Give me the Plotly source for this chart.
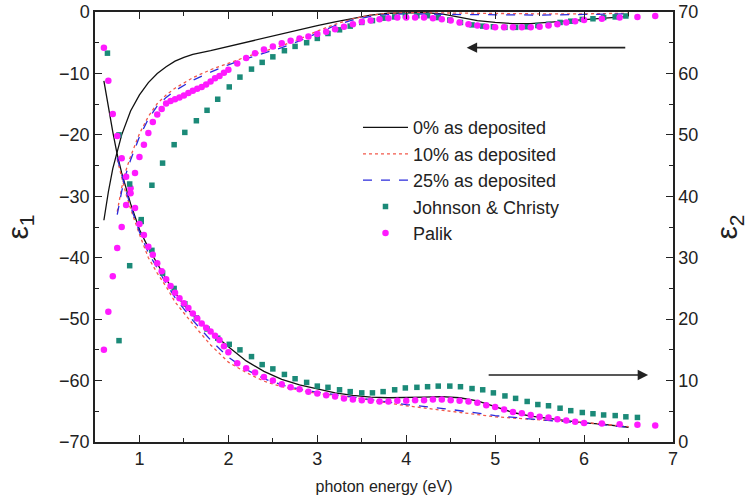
import plotly.graph_objects as go

# ---------------- data ----------------
# Johnson & Christy
jc_E = [0.64, 0.77, 0.89, 1.02, 1.14, 1.26, 1.39, 1.51, 1.64, 1.76, 1.88, 2.01, 2.13, 2.26, 2.38,
        2.50, 2.63, 2.75, 2.88, 3.00, 3.12, 3.25, 3.37, 3.50, 3.62, 3.74, 3.87, 3.99, 4.12, 4.24,
        4.36, 4.49, 4.61, 4.74, 4.86, 4.98, 5.11, 5.23, 5.36, 5.48, 5.60, 5.73, 5.85, 5.98, 6.10,
        6.22, 6.35, 6.47, 6.60]
jc_e1 = [None, -53.5, -41.3, -33.8, -28.2, -24.6, -21.6, -19.6, -17.7, -16.0, -14.2, -12.2, -10.6, -9.3, -8.2,
         -7.3, -6.3, -5.6, -5.0, -4.3, -3.5, -2.9, -2.3, -1.7, -1.4, -1.0, -0.8, -0.6, -0.6, -0.6,
         -0.9, -1.3, -1.7, -2.1, -2.3, -2.4, -2.5, -2.5, -2.4, -2.2, -2.0, -1.7, -1.5, -1.2, -1.1,
         -0.9, -0.8, -0.65, None]
jc_e2 = [63.3, 50.0, 42.0, 35.9, 31.2, 27.5, 25.0, 22.5, 20.2, 18.4, 16.9, 15.9, 15.0, 13.9, 12.6,
         11.9, 11.0, 10.3, 9.7, 9.1, 8.9, 8.5, 8.2, 8.0, 8.0, 8.2, 8.5, 8.8, 8.9, 9.0,
         9.1, 9.1, 9.0, 8.7, 8.5, 8.0, 7.5, 7.1, 6.6, 6.1, 5.9, 5.5, 5.1, 4.8, 4.6,
         4.4, 4.3, 4.1, 4.0]

# Palik
pa_E = [0.60, 0.65, 0.70, 0.75, 0.80, 0.85, 0.90, 0.95, 1.00, 1.05, 1.10, 1.15, 1.20, 1.25, 1.30,
        1.35, 1.40, 1.45, 1.50, 1.55, 1.60, 1.65, 1.70, 1.75, 1.80, 1.85, 1.90, 1.95, 2.00,
        2.1, 2.2, 2.3, 2.4, 2.5, 2.6, 2.7, 2.8, 2.9, 3.0, 3.1, 3.2, 3.3, 3.4, 3.5, 3.6, 3.7, 3.8,
        3.9, 4.0, 4.1, 4.2, 4.3, 4.4, 4.5, 4.6, 4.7, 4.8, 4.9, 5.0, 5.1, 5.2, 5.3, 5.4, 5.5, 5.6,
        5.7, 5.8, 5.9, 6.0, 6.2, 6.4, 6.6, 6.8]
pa_e1 = [-55.0, -48.8, -43.0, -38.4, -35.0, -31.4, -28.7, -26.2, -23.6, -21.6, -19.7, -17.9, -16.7, -15.8, -14.9,
         -14.5, -14.2, -13.9, -13.6, -13.2, -12.8, -12.5, -12.2, -11.8, -11.3, -10.8, -10.4, -9.9, -9.4,
         -8.4, -7.5, -6.7, -6.1, -5.6, -5.1, -4.7, -4.3, -4.0, -3.6, -3.2, -2.8, -2.4, -2.0, -1.6, -1.4, -1.2, -1.0,
         -0.9, -0.9, -0.9, -0.9, -1.0, -1.2, -1.4, -1.7, -2.0, -2.2, -2.4, -2.5, -2.5, -2.5, -2.5, -2.5, -2.4, -2.2,
         -2.0, -1.7, -1.5, -1.3, -1.1, -0.9, -0.8, -0.65]
pa_e2 = [64.2, 58.8, 53.4, 49.8, 46.2, 43.2, 40.5, 38.1, 35.5, 33.7, 31.8, 30.5, 29.1, 27.8, 26.5,
         25.4, 24.3, 23.4, 22.6, 21.8, 20.9, 20.1, 19.3, 18.6, 18.0, 17.3, 16.6, 15.6, 14.6,
         12.8, 12.0, 11.3, 10.6, 10.0, 9.4, 8.9, 8.6, 8.2, 7.9, 7.6, 7.4, 7.1, 6.9, 6.8, 6.7, 6.6, 6.6,
         6.7, 6.7, 6.8, 6.8, 6.9, 6.9, 6.8, 6.7, 6.6, 6.4, 6.0, 5.7, 5.3, 4.9, 4.7, 4.4, 4.1, 4.0,
         3.7, 3.5, 3.3, 3.1, 3.0, 2.9, 2.8, 2.7]

# 0% as deposited
m0_E = [0.60, 0.65, 0.70, 0.75, 0.80, 0.90, 1.0, 1.1, 1.2, 1.3, 1.4, 1.5, 1.6, 1.8, 2.0, 2.2, 2.4, 2.6,
        2.8, 3.0, 3.2, 3.4, 3.6, 3.8, 4.0, 4.2, 4.4, 4.6, 4.8, 5.0, 5.2, 5.4, 5.6, 5.8, 6.0, 6.2, 6.4, 6.5]
m0_e1 = [-33.9, -29.3, -25.5, -22.5, -20.0, -16.1, -13.5, -11.5, -10.0, -8.9, -8.0, -7.4, -6.9, -6.3, -5.6,
         -4.9, -4.2, -3.5, -2.9, -2.2, -1.6, -1.0, -0.5, -0.2, -0.1, -0.1, -0.3, -0.9, -1.4, -1.7, -1.9,
         -1.9, -1.7, -1.5, -1.2, -1.0, -0.8, -0.7]
m0_e2 = [58.8, 54.5, 50.5, 46.8, 43.8, 38.8, 34.6, 31.6, 29.1, 26.5, 24.3, 22.3, 20.7, 18.0, 15.5,
         13.2, 11.5, 10.2, 9.3, 8.6, 8.0, 7.6, 7.3, 7.2, 7.2, 7.3, 7.4, 7.2, 6.7, 5.8, 4.8,
         4.2, 3.8, 3.4, 3.1, 2.9, 2.6, 2.4]

# 10% and 25% as deposited
m_E = [0.75, 0.80, 0.85, 0.90, 1.0, 1.1, 1.2, 1.3, 1.4, 1.5, 1.6, 1.8, 2.0, 2.2, 2.4, 2.6, 2.8, 3.0,
       3.2, 3.4, 3.6, 3.8, 4.0, 4.5, 5.0, 5.5, 6.0, 6.5]
m10_e1 = [-32.5, -28.6, -25.7, -23.5, -19.8, -17.0, -14.9, -13.5, -12.4, -11.5, -10.7, -9.4, -8.3, -7.3,
          -6.4, -5.5, -4.4, -3.1, -2.0, -1.1, -0.5, -0.2, -0.1, -0.2, -0.3, -0.3, -0.3, -0.2]
m10_e2 = [46.0, 43.0, 40.3, 38.0, 33.8, 30.0, 27.5, 25.3, 22.8, 21.0, 19.2, 15.8, 13.0, 11.3,
          9.9, 9.0, 8.4, 7.9, 7.6, 7.3, 6.8, 6.3, 5.9, 5.0, 4.1, 3.6, 3.2, 2.5]
m25_e1 = [-33.0, -29.2, -26.3, -24.1, -20.3, -17.4, -15.3, -13.9, -12.8, -11.9, -11.1, -9.8, -8.6, -7.6,
          -6.7, -5.8, -4.7, -3.4, -2.2, -1.3, -0.7, -0.4, -0.3, -0.4, -0.5, -0.5, -0.4, -0.3]
m25_e2 = [46.3, 43.4, 40.8, 38.4, 34.2, 30.8, 28.2, 25.8, 23.5, 21.6, 19.8, 16.6, 13.8, 11.8,
          10.3, 9.3, 8.6, 8.1, 7.7, 7.3, 6.9, 6.5, 6.1, 5.3, 4.3, 3.6, 3.1, 2.4]

names = ["0% as deposited", "10% as deposited", "25% as deposited", "Johnson & Christy", "Palik"]
x_ticks = [1, 2, 3, 4, 5, 6, 7]

# ---------------- figure ----------------
BLACK = "#111111"
RED = "#f2584a"
BLUE = "#2b2bdc"
TEAL = "#1b8a78"
MAG = "#ff1aff"

fig = go.Figure()

def line(x, y, color, dash, name, show, axis):
    fig.add_trace(go.Scatter(x=x, y=y, mode="lines", name=name, showlegend=show, yaxis=axis,
                             line=dict(color=color, width=1.3, dash=dash)))

line(m0_E, m0_e1, BLACK, "solid", names[0], True, "y")
line(m_E, m10_e1, RED, "dot", names[1], True, "y")
line(m_E, m25_e1, BLUE, "dash", names[2], True, "y")
fig.add_trace(go.Scatter(x=jc_E, y=jc_e1, mode="markers", name=names[3], yaxis="y",
                         marker=dict(color=TEAL, size=5.5, symbol="square")))
fig.add_trace(go.Scatter(x=pa_E, y=pa_e1, mode="markers", name=names[4], yaxis="y",
                         marker=dict(color=MAG, size=6.5, symbol="circle")))

line(m0_E, m0_e2, BLACK, "solid", names[0], False, "y2")
line(m_E, m10_e2, RED, "dot", names[1], False, "y2")
line(m_E, m25_e2, BLUE, "dash", names[2], False, "y2")
fig.add_trace(go.Scatter(x=jc_E, y=jc_e2, mode="markers", name=names[3], yaxis="y2", showlegend=False,
                         marker=dict(color=TEAL, size=5.5, symbol="square")))
fig.add_trace(go.Scatter(x=pa_E, y=pa_e2, mode="markers", name=names[4], yaxis="y2", showlegend=False,
                         marker=dict(color=MAG, size=6.5, symbol="circle")))

FONT = "Liberation Sans, Arial, sans-serif"
axis_common = dict(showline=True, linecolor="#222", linewidth=1.5, ticks="inside", ticklen=7,
                   tickwidth=1.3, tickcolor="#222", showgrid=False, zeroline=False,
                   automargin=False,
                   tickfont=dict(family=FONT, size=18, color="#222"))

fig.update_layout(
    width=753, height=500,
    margin=dict(l=95, r=80, t=12, b=58),
    paper_bgcolor="white", plot_bgcolor="white",
    font=dict(family=FONT, color="#222"),
    xaxis=dict(range=[0.5, 7], tickvals=x_ticks, mirror="ticks",
               minor=dict(ticks="inside", dtick=0.5, tick0=0.5, ticklen=4, tickcolor="#222"),
               title=dict(text="photon energy (eV)", font=dict(size=16, family=FONT), standoff=12),
               **axis_common),
    yaxis=dict(range=[-70, 0], dtick=10,
               minor=dict(ticks="inside", dtick=5, ticklen=4, tickcolor="#222"),
               title=dict(text="ε<sub>1</sub>", font=dict(size=30, family=FONT), standoff=22),
               **axis_common),
    yaxis2=dict(range=[0, 70], dtick=10, overlaying="y", side="right",
                minor=dict(ticks="inside", dtick=5, ticklen=4, tickcolor="#222"),
                title=dict(text="ε<sub>2</sub>", font=dict(size=30, family=FONT), standoff=19),
                **axis_common),
    legend=dict(x=0.455, y=0.774, xanchor="left", yanchor="top", bgcolor="rgba(0,0,0,0)",
                font=dict(family=FONT, size=18, color="#222"), tracegroupgap=0,
                itemwidth=45),
    annotations=[
        dict(x=4.68, y=-5.8, ax=6.48, ay=-5.8, xref="x", yref="y", axref="x", ayref="y",
             showarrow=True, arrowhead=2, arrowsize=1.3, arrowwidth=1.6, arrowcolor="#222", text=""),
        dict(x=6.72, y=-59.1, ax=4.91, ay=-59.1, xref="x", yref="y", axref="x", ayref="y",
             showarrow=True, arrowhead=2, arrowsize=1.3, arrowwidth=1.6, arrowcolor="#222", text=""),
    ],
)

fig.write_html("out.html")
